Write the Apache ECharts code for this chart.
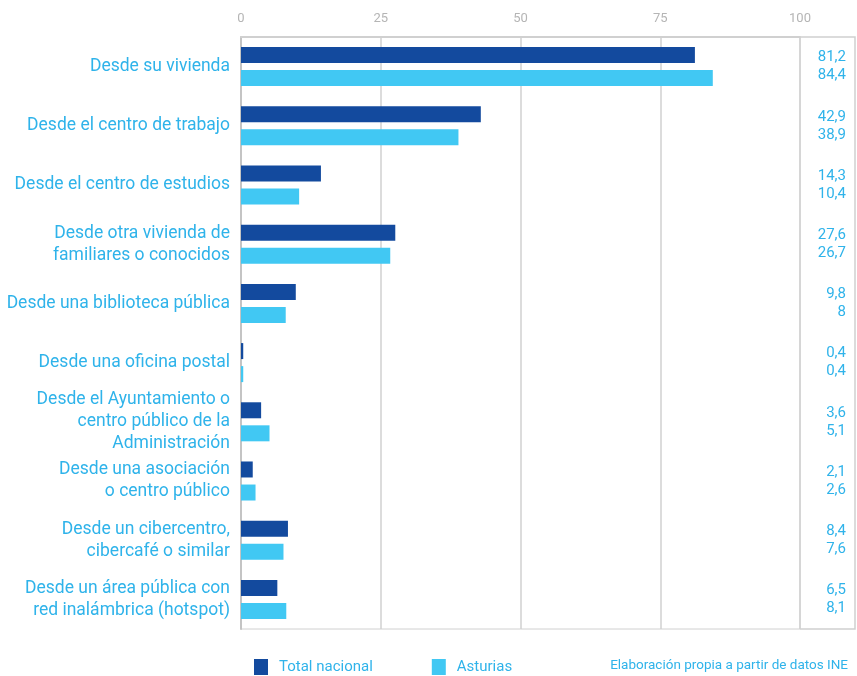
<!DOCTYPE html>
<html>
<head>
<meta charset="utf-8">
<script src="https://cdn.jsdelivr.net/npm/echarts@6/dist/echarts.min.js"></script>
<style>
html,body{margin:0;padding:0;background:#fff;}
#c{width:857px;height:676px;}
</style>
</head>
<body>
<div id="c"></div>
<script>
const categories = [
  'Desde su vivienda',
  'Desde el centro de trabajo',
  'Desde el centro de estudios',
  'Desde otra vivienda de\nfamiliares o conocidos',
  'Desde una biblioteca pública',
  'Desde una oficina postal',
  'Desde el Ayuntamiento o\ncentro público de la\nAdministración',
  'Desde una asociación\no centro público',
  'Desde un cibercentro,\ncibercafé o similar',
  'Desde un área pública con\nred inalámbrica (hotspot)'
];
const totalNacional = [81.2, 42.9, 14.3, 27.6, 9.8, 0.4, 3.6, 2.1, 8.4, 6.5];
const asturias = [84.4, 38.9, 10.4, 26.7, 8, 0.4, 5.1, 2.6, 7.6, 8.1];
const seriesNames = ['Total nacional', 'Asturias'];
const xTicks = [0, 25, 50, 75, 100];
const sourceText = 'Elaboración propia a partir de datos INE';

const FONT = "Roboto, 'Liberation Sans', sans-serif";
const DARK = '#134A9E';
const LIGHT = '#41C8F3';
const TXT = '#2FB3EA';
const GRID = '#D0D0D0';
const fmt = v => String(v).replace('.', ',');

const chart = echarts.init(document.getElementById('c'), null, {renderer: 'canvas'});
chart.setOption({
  animation: false,
  backgroundColor: '#fff',
  textStyle: {fontFamily: FONT},
  grid: {left: 241, right: 57, top: 37, bottom: 47, show: true, borderColor: GRID, borderWidth: 1,
         containLabel: false, outerBoundsMode: 'none'},
  xAxis: {
    type: 'value', position: 'top', min: xTicks[0], max: xTicks[xTicks.length - 1], interval: 25,
    axisLine: {show: true, lineStyle: {color: GRID, width: 2}},
    axisTick: {show: false},
    splitLine: {show: true, lineStyle: {color: GRID, width: 1.5}},
    axisLabel: {color: '#B5B5B5', fontSize: 13, fontFamily: FONT, margin: 12}
  },
  yAxis: [{
    type: 'category', data: categories, inverse: true,
    axisLine: {show: true, lineStyle: {color: '#C4C4C4', width: 2}},
    axisTick: {show: false},
    axisLabel: {color: TXT, fontSize: 17.5, lineHeight: 22, fontFamily: FONT, margin: 11, align: 'right'}
  }, {
    type: 'category', data: categories, inverse: true, position: 'right',
    axisLine: {show: false}, axisTick: {show: false},
    axisLabel: {
      color: TXT, fontSize: 15, lineHeight: 18, fontFamily: FONT, margin: 46, align: 'right',
      formatter: (v, i) => fmt(totalNacional[i]) + '\n' + fmt(asturias[i])
    }
  }],
  legend: {
    left: 254, top: 659, itemWidth: 14, itemHeight: 16, itemGap: 59,
    icon: 'rect', padding: 0,
    textStyle: {color: TXT, fontSize: 15, fontFamily: FONT, padding: [0, 0, 0, 6]},
    data: seriesNames
  },
  title: {
    text: sourceText, right: 9, top: 659, padding: 0,
    textStyle: {color: TXT, fontSize: 13.5, fontWeight: 'normal', fontFamily: FONT}
  },
  graphic: [{
    type: 'polyline', shape: {points: [[800, 37], [855, 37], [855, 629], [800, 629]]},
    style: {fill: 'none', stroke: GRID, lineWidth: 1.5}, silent: true
  }],
  series: [{
    name: seriesNames[0], type: 'bar', data: totalNacional, barWidth: 16, barGap: '44%',
    itemStyle: {color: DARK}
  }, {
    name: seriesNames[1], type: 'bar', data: asturias, barWidth: 16, barGap: '44%',
    itemStyle: {color: LIGHT}
  }]
});
</script>
</body>
</html>
